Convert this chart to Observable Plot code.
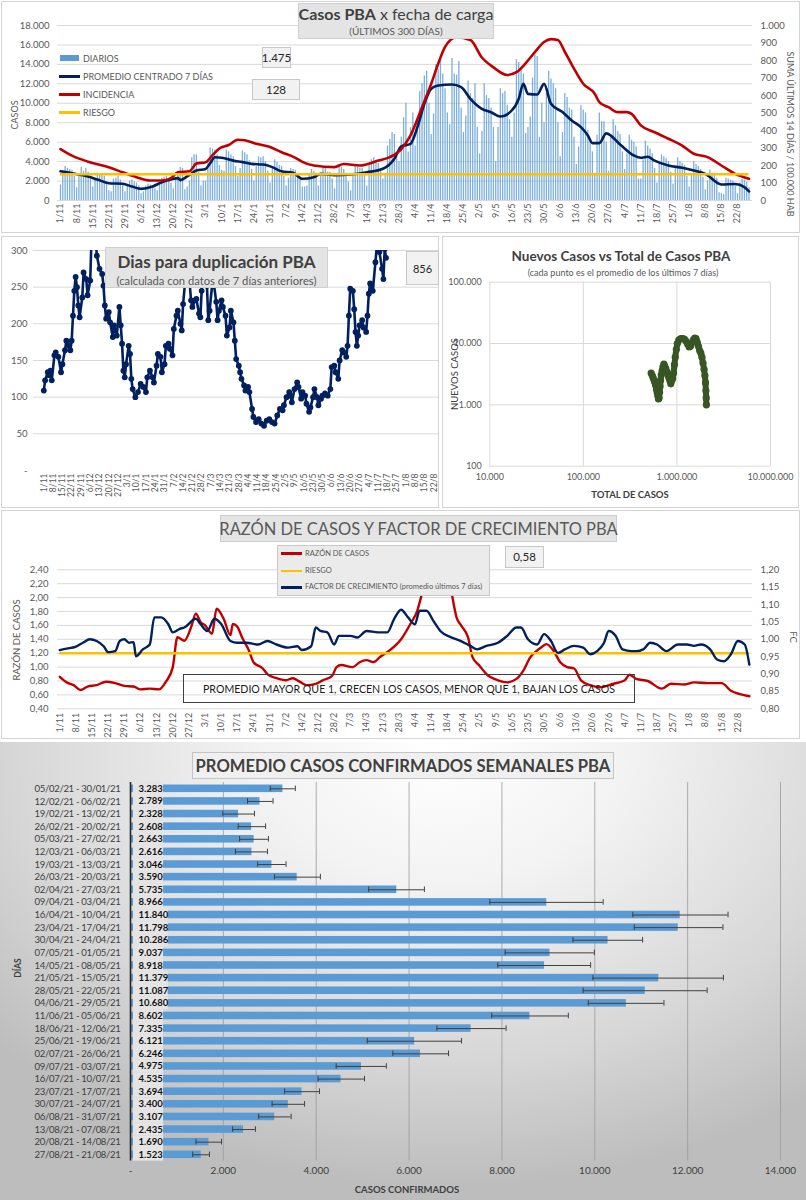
<!DOCTYPE html>
<html><head><meta charset="utf-8">
<script src="https://cdn.jsdelivr.net/npm/d3@7"></script>
<script src="https://cdn.jsdelivr.net/npm/@observablehq/plot@0.6"></script>
<style>
body{margin:0;background:#fff;}
#root{position:relative;width:806px;height:1200px;overflow:hidden;font-family:Lato,"Noto Sans",sans-serif;color:#595959;background:#fff;}
svg{overflow:visible}
</style></head>
<body><div id="root"></div>
<script>
// ---------------- DATA ----------------
const weekLabels = ["1/11","8/11","15/11","22/11","29/11","6/12","13/12","20/12","27/12","3/1","10/1","17/1","24/1","31/1","7/2","14/2","21/2","28/2","7/3","14/3","21/3","28/3","4/4","11/4","18/4","25/4","2/5","9/5","16/5","23/5","30/5","6/6","13/6","20/6","27/6","4/7","11/7","18/7","25/7","1/8","8/8","15/8","22/8"];

// daily cases (fecha de carga), 1/11/2020 .. 27/8/2021
const diarios = [
1600,3000,3500,3300,3200,3100,2500,
1300,2500,3400,3000,3300,2900,2200,
1400,2300,2800,2700,2600,2500,1900,
1000,900,2200,2300,2500,2100,1700,
900,1500,2000,2100,1900,1800,1500,
700,900,1500,1700,1600,1500,1200,
1000,1600,2300,2400,2500,2200,1800,
1200,2300,3000,3400,3300,1100,1400,
2000,4400,4700,4700,2900,1500,2000,
2000,4000,5400,5300,5200,4700,3600,
3100,3000,5200,5000,4700,4500,3500,
2500,3300,5100,4900,4700,4100,3200,
2000,3500,4500,4400,4500,4000,3000,
1800,3400,4200,3900,3600,3500,2500,
1500,2300,3300,3200,3100,2800,2300,
1400,1400,1500,2800,3200,3000,2800,
1500,2700,3300,3400,2900,2900,2200,
1200,2500,3400,3400,3200,2800,1900,
1000,2800,3600,3400,3300,3300,2800,
1500,3600,4200,4400,4100,3800,3300,
2200,2800,5600,6300,7000,6800,4500,
4000,6500,8500,10000,5000,7500,9000,
5600,8000,11200,12000,12800,13300,10000,
6800,8900,14000,13500,14600,13000,11500,
9000,7800,14600,13000,12900,14300,9500,
7000,8700,12300,11000,10500,12000,7500,
4800,7100,12000,10800,10500,9500,7500,
4000,7500,11500,11000,11200,9800,8300,
6500,9000,14500,14200,13500,13000,6900,
7500,8600,12600,15000,14800,6500,10000,
8000,11000,13300,12500,12000,11500,8000,
4500,7000,11000,10600,9500,9300,6500,
3700,5500,9800,9300,9000,7200,6000,
5000,2600,6700,9000,8100,8100,6000,
3000,6500,8300,7700,7100,6800,5000,
3200,4800,6700,6200,6000,5500,2200,
2200,4200,6100,5600,5300,4800,3300,
1800,3700,4700,4500,4300,4000,2900,
1700,3300,4400,4000,3800,3600,2500,
1400,2700,4000,3700,3500,3200,2400,
1100,2000,3100,2800,2700,2300,800,
700,600,2300,2200,2100,2000,1500,
700,1800,2200,2100,1900,1300];

// promedio centrado 7 días (day index from 1/11)
const promDays = [0,5,12,16,21,27,31,35,40,44,48,51,52,55,59,63,65,67,70,75,79,83,88,92,96,101,105,110,113,119,126,133,140,145,148,152,155,158,161,164,170,174,178,183,187,191,196,199,201,203,207,210,213,218,222,226,229,231,234,237,243,249,252,255,258,264,270,275,280,287,293,297,299];
const promVals = [3000,2800,2470,2160,1780,1720,1440,1200,1440,1880,2160,2300,2100,2470,3080,3250,3840,4450,4400,4100,3950,3770,3700,3430,3000,2850,2230,2400,2740,2600,2670,2900,3260,4300,5560,5830,7540,9950,11500,11830,11930,11660,10460,9430,9080,8640,9260,10460,12000,10970,10900,12000,9950,9100,8230,7540,6700,5900,5900,6900,5760,4630,4390,4500,4100,3600,3360,3080,2740,1650,1700,1370,930];

// incidencia: suma últimos 14 días / 100.000 hab
const incDays = [0,5,12,21,27,33,39,44,48,51,56,59,63,66,69,73,77,80,85,91,96,102,105,110,119,123,130,138,143,148,152,157,161,164,167,172,178,183,188,194,198,203,206,210,213,216,219,223,227,232,234,238,242,246,248,252,258,264,270,275,281,287,293,299];
const incVals = [294,256,222,190,161,133,114,114,128,161,167,211,219,259,297,317,347,344,324,306,276,244,221,200,191,209,200,228,248,294,372,533,667,781,878,933,917,817,761,717,733,800,848,906,922,917,850,753,667,610,562,533,505,505,495,429,390,353,314,267,248,200,152,124];
const riesgoInc = 150;
const casosTicks = [0,2000,4000,6000,8000,10000,12000,14000,16000,18000];
const incTicks = [0,100,200,300,400,500,600,700,800,900,1000];

// días para duplicación
const dupDays = [0,1,3,4,5,6,8,9,11,13,14,16,17,19,20,21,22,23,24,25,26,27,29,30,32,33,35,36,38,40,42,44,45,46,47,49,50,52,53,55,57,58,59,60,61,62,64,65,66,67,69,71,73,75,77,78,80,82,83,85,86,88,89,91,92,94,95,97,98,100,101,103,104,105,107,109,111,112,114,115,117,118,119,120,121,123,124,125,127,128,130,131,132,134,135,137,138,140,141,143,144,145,147,148,149,151,152,154,155,157,158,160,162,164,166,168,170,172,174,176,178,180,181,183,185,186,187,189,191,192,194,195,197,198,200,201,203,204,206,207,209,210,212,214,216,217,219,220,222,223,225,226,228,229,230,231,233,234,235,236,237,238,240,241,243,244,245,246,247,248,250,251,253,255,256,257,258];
const dupVals = [109,123,134,130,136,123,157,161,155,134,145,164,177,170,164,177,211,245,264,250,225,209,236,270,261,239,259,320,340,293,275,268,252,225,207,216,202,182,198,184,223,198,173,136,127,145,170,159,125,111,100,107,118,114,107,127,136,127,120,143,159,155,134,145,170,173,166,157,193,211,218,200,191,227,266,277,232,223,232,234,214,209,245,284,270,252,205,218,255,257,230,205,218,232,223,211,184,195,218,202,177,152,143,134,125,116,109,114,107,84,73,66,70,64,61,68,70,66,64,75,84,82,89,100,107,102,93,111,120,114,98,107,102,91,80,86,100,111,100,89,98,102,105,102,111,141,143,134,125,150,164,161,155,170,211,248,245,220,189,170,184,198,205,195,189,211,241,255,252,245,284,305,298,275,261,302,290];
const dupTicks = [0,50,100,150,200,250,300];

// nuevos casos vs total de casos (promedio 7 días)
const scTotal = [530000,545000,560000,575000,590000,605000,615000,625000,635000,645000,652000,660000,668000,680000,695000,710000,725000,740000,760000,780000,800000,820000,840000,860000,880000,900000,920000,940000,960000,985000,1010000,1050000,1100000,1150000,1200000,1250000,1300000,1350000,1400000,1450000,1500000,1550000,1600000,1650000,1700000,1750000,1800000,1850000,1900000,1950000,1990000,2020000,2040000,2055000,2065000];
const scNew = [3300,3000,2700,2400,2100,1800,1600,1400,1250,1300,1600,2000,2500,3100,3600,4200,4600,4300,3900,3500,3100,2800,2500,2200,2500,2700,3300,4500,6000,8000,10000,11500,12000,12000,11800,11000,9800,8800,9100,10300,11500,12300,12000,10500,9000,7700,7000,6000,4800,3800,3000,2300,1700,1300,1000];
const scXTicks = [10000,100000,1000000,10000000];
const scYTicks = [100,1000,10000,100000];

// razón de casos y factor de crecimiento
const razDays = [0,3,6,9,12,16,20,24,28,32,35,39,43,46,49,51,54,57,59,61,63,66,68,71,74,75,77,79,82,84,88,90,94,98,101,104,107,111,114,118,120,122,127,130,133,136,139,143,148,152,155,157,159,163,167,170,172,174,177,179,182,185,190,194,198,201,204,207,209,211,214,217,220,223,226,230,234,240,245,247,250,255,261,265,271,275,281,287,291,295,299];
const razVals = [0.86,0.78,0.74,0.67,0.72,0.74,0.79,0.77,0.73,0.72,0.68,0.69,0.68,0.79,1.0,1.43,1.38,1.58,1.77,1.65,1.6,1.48,1.84,1.7,1.46,1.62,1.58,1.43,1.24,1.07,0.98,0.9,0.84,0.81,0.84,0.79,0.74,0.76,0.81,0.87,1.0,1.03,1.0,1.07,1.1,1.07,1.15,1.24,1.4,1.62,1.81,2.05,2.29,2.7,2.6,2.05,1.72,1.6,1.43,1.14,1.02,0.9,0.81,0.78,0.83,0.95,1.14,1.24,1.29,1.33,1.24,1.07,1.0,0.98,0.81,0.74,0.71,0.76,0.81,0.89,0.83,0.8,0.69,0.76,0.75,0.78,0.77,0.77,0.66,0.61,0.58];
const fcDays = [0,3,7,10,13,16,19,21,24,26,28,30,32,33,36,39,41,44,47,49,52,54,59,61,64,67,70,74,77,81,86,90,94,99,103,105,109,111,113,116,119,121,126,129,133,138,142,145,148,151,154,156,159,162,165,170,174,178,181,185,190,194,198,200,203,207,210,213,216,219,223,227,230,233,236,238,241,244,248,250,253,256,259,263,268,272,275,278,282,285,288,291,294,297,299];
const fcVals = [0.969,0.973,0.979,0.99,1.0,0.995,0.98,0.963,0.966,0.995,1.0,0.99,0.992,0.951,0.971,0.985,1.063,1.063,1.044,1.02,1.03,1.034,1.059,1.044,1.024,1.059,1.044,0.995,0.99,0.99,0.985,0.995,0.985,0.976,0.98,0.969,0.98,1.034,1.024,1.02,0.985,1.01,1.01,1.005,1.024,1.02,1.02,1.059,1.085,1.063,1.043,1.082,1.082,1.053,1.024,1.005,0.995,0.981,0.971,0.981,0.99,1.01,1.034,1.034,1.0,0.985,1.015,0.995,0.961,0.971,0.981,0.976,0.957,0.966,0.99,1.024,1.01,0.971,0.966,0.966,0.971,0.99,0.985,0.966,0.985,0.985,0.981,0.985,0.971,0.942,0.937,0.957,0.995,0.985,0.927];
const riesgoRazon = 1.2;
const razTicks = [0.4,0.6,0.8,1.0,1.2,1.4,1.6,1.8,2.0,2.2,2.4];
const fcTicks = [0.80,0.85,0.90,0.95,1.00,1.05,1.10,1.15,1.20];

// promedio casos confirmados semanales
const semanas = ["05/02/21 - 30/01/21","12/02/21 - 06/02/21","19/02/21 - 13/02/21","26/02/21 - 20/02/21","05/03/21 - 27/02/21","12/03/21 - 06/03/21","19/03/21 - 13/03/21","26/03/21 - 20/03/21","02/04/21 - 27/03/21","09/04/21 - 03/04/21","16/04/21 - 10/04/21","23/04/21 - 17/04/21","30/04/21 - 24/04/21","07/05/21 - 01/05/21","14/05/21 - 08/05/21","21/05/21 - 15/05/21","28/05/21 - 22/05/21","04/06/21 - 29/05/21","11/06/21 - 05/06/21","18/06/21 - 12/06/21","25/06/21 - 19/06/21","02/07/21 - 26/06/21","09/07/21 - 03/07/21","16/07/21 - 10/07/21","23/07/21 - 17/07/21","30/07/21 - 24/07/21","06/08/21 - 31/07/21","13/08/21 - 07/08/21","20/08/21 - 14/08/21","27/08/21 - 21/08/21"];
const promSem = [3283,2789,2328,2608,2663,2616,3046,3590,5735,8966,11840,11798,10286,9037,8918,11379,11087,10680,8602,7335,6121,6246,4975,4535,3694,3400,3107,2435,1690,1523];
const errLo = [3010,2520,1990,2320,2350,2260,2740,3100,5130,7740,10820,10850,9530,8070,7910,9960,9750,9860,7780,6600,5100,5650,4430,4040,3320,3050,2760,2200,1410,1340];
const errHi = [3550,3070,2670,2910,2970,2950,3350,4090,6330,10180,12870,12760,11030,9990,9910,12770,12420,11490,9430,8090,7130,6850,5510,5040,4070,3750,3460,2690,1960,1700];
const semTicks = [0,2000,4000,6000,8000,10000,12000,14000];

// ---------------- HELPERS ----------------
const root = document.getElementById("root");
const loc = d3.formatLocale({decimal:",", thousands:".", grouping:[3], currency:["$",""]});
const fInt = loc.format(",d");
const f2 = loc.format(",.2f");
const FONT = "Lato, 'Noto Sans', sans-serif";
function place(el, x, y){ el.style.position="absolute"; el.style.left=x+"px"; el.style.top=y+"px"; root.appendChild(el); return el; }
function box(x,y,w,h,css){ const d=document.createElement("div"); d.style.cssText=`position:absolute;left:${x}px;top:${y}px;width:${w}px;height:${h}px;box-sizing:border-box;`+(css||""); root.appendChild(d); return d; }
function txt(s,cx,cy,css,rot){ const d=document.createElement("div"); d.innerHTML=s; d.style.cssText=`position:absolute;left:${cx}px;top:${cy}px;white-space:nowrap;line-height:1;transform:translate(-50%,-50%) rotate(${rot||0}deg);`+(css||""); root.appendChild(d); return d; }
function txtL(s,x,cy,css){ const d=document.createElement("div"); d.innerHTML=s; d.style.cssText=`position:absolute;left:${x}px;top:${cy}px;white-space:nowrap;line-height:1;transform:translateY(-50%);`+(css||""); root.appendChild(d); return d; }
const baseStyle = {background:"transparent", fontFamily:FONT, color:"#595959", overflow:"visible"};
const weekTickDays = weekLabels.map((_,i)=>i*7);
const weekFmt = d => weekLabels[Math.round(d/7)];

// panel frames & backgrounds
box(1,1,799,232,"border:1px solid #d4d4d4;");
box(1,236,438,272,"border:1px solid #d4d4d4;");
box(442,236,357,272,"border:1px solid #d4d4d4;");
box(1,510,799,229,"border:1px solid #d4d4d4;");
box(0,742,806,458,"background:radial-gradient(ellipse 75% 95% at 55% 2%, #ffffff 0%, #f3f3f3 30%, #d6d6d6 72%, #bdbdbd 100%);");

// ---------------- PANEL 1 ----------------
const K = 18000/1000;
const daily = diarios.map((v,i)=>({d:i, v}));
const prom = promDays.map((d,i)=>({d, v:promVals[i]}));
const inc = incDays.map((d,i)=>({d, v:incVals[i]*K}));
const p1 = Plot.plot({
  width:806, height:235, marginLeft:57, marginRight:54, marginTop:25, marginBottom:35,
  x:{domain:[0,294], range:[60,737], axis:null},
  y:{domain:[0,18000], axis:null},
  style:baseStyle,
  marks:[
    Plot.ruleY(casosTicks,{stroke:"#d9d9d9", strokeWidth:1}),
    Plot.ruleX(daily,{x:"d", y1:0, y2:"v", stroke:"#5b9bd5", strokeWidth:1.3, strokeOpacity:0.8}),
    Plot.line(prom,{x:"d", y:"v", stroke:"#002060", strokeWidth:2.6, curve:"monotone-x"}),
    Plot.line(inc,{x:"d", y:"v", stroke:"#c00000", strokeWidth:2.6, curve:"monotone-x"}),
    Plot.ruleY([riesgoInc*K],{x1:0, x2:299, stroke:"#ffc000", strokeWidth:2.6}),
    Plot.axisY(casosTicks,{anchor:"left", tickSize:0, tickPadding:8, tickFormat:fInt, fontSize:9.5, label:null}),
    Plot.axisY(incTicks.map(v=>v*K),{anchor:"right", tickSize:0, tickPadding:8, tickFormat:d=>fInt(Math.round(d/K)), fontSize:9.5, label:null}),
    Plot.axisX(weekTickDays,{tickFormat:weekFmt, tickRotate:-90, tickSize:0, tickPadding:3, fontSize:9, label:null})
  ]
});
place(p1,0,0);

// ---------------- PANEL 2 ----------------
const dup = dupDays.map((d,i)=>({d, v:dupVals[i]}));
const p2 = Plot.plot({
  width:440, height:275, marginLeft:33, marginRight:2, marginTop:15, marginBottom:40,
  x:{domain:[0,294], range:[43.3,433.3], axis:null},
  y:{domain:[0,300], axis:null},
  style:baseStyle,
  marks:[
    Plot.ruleY(dupTicks.filter(v=>v>0),{stroke:"#d9d9d9"}),
    Plot.line(dup,{x:"d", y:"v", stroke:"#002060", strokeWidth:2.6, clip:true}),
    Plot.dot(dup,{x:"d", y:"v", r:2.9, fill:"#002060", clip:true}),
    Plot.axisY(dupTicks,{tickSize:0, tickPadding:6, tickFormat:d=>d===0?"-":String(d), fontSize:9.5, label:null}),
    Plot.axisX(weekTickDays,{tickFormat:weekFmt, tickRotate:-90, tickSize:0, tickPadding:3, fontSize:8.5, label:null})
  ]
});
place(p2,0,235);

// ---------------- PANEL 3 ----------------
const sc = scTotal.map((t,i)=>({t, n:scNew[i]}));
const p3 = Plot.plot({
  width:357, height:270, marginLeft:46.3, marginRight:30, marginTop:44.7, marginBottom:41.3,
  x:{type:"log", domain:[1e4,1e7], axis:null},
  y:{type:"log", domain:[100,1e5], axis:null},
  style:baseStyle,
  marks:[
    Plot.ruleX(scXTicks,{stroke:"#d9d9d9"}),
    Plot.ruleY(scYTicks,{stroke:"#d9d9d9"}),
    Plot.line(sc,{x:"t", y:"n", stroke:"#375623", strokeWidth:6, curve:"monotone-x"}),
    Plot.dot(sc,{x:"t", y:"n", r:3.6, fill:"#375623"}),
    Plot.axisY(scYTicks,{tickSize:0, tickPadding:8, tickFormat:fInt, fontSize:9, label:null}),
    Plot.axisX(scXTicks,{tickSize:0, tickPadding:7, tickFormat:fInt, fontSize:9, label:null})
  ]
});
place(p3,443,237);

// ---------------- PANEL 4 ----------------
const conv = fc => 0.4 + (fc-0.8)*5;
const raz = razDays.map((d,i)=>({d, v:razVals[i]}));
const fcs = fcDays.map((d,i)=>({d, v:conv(fcVals[i])}));
const p4 = Plot.plot({
  width:806, height:230, marginLeft:57, marginRight:54, marginTop:59.3, marginBottom:31.7,
  x:{domain:[0,294], range:[59.3,737.3], axis:null},
  y:{domain:[0.4,2.4], axis:null},
  style:baseStyle,
  marks:[
    Plot.ruleY(razTicks,{stroke:"#d9d9d9"}),
    Plot.line(raz,{x:"d", y:"v", stroke:"#c00000", strokeWidth:2.4, curve:"monotone-x", clip:true}),
    Plot.ruleY([riesgoRazon],{x1:0, x2:299, stroke:"#ffc000", strokeWidth:2.6}),
    Plot.line(fcs,{x:"d", y:"v", stroke:"#002060", strokeWidth:2.4, curve:"monotone-x"}),
    Plot.axisY(razTicks,{anchor:"left", tickSize:0, tickPadding:9, tickFormat:f2, fontSize:9.5, label:null}),
    Plot.axisY(fcTicks.map(conv),{anchor:"right", tickSize:0, tickPadding:8, tickFormat:d=>f2(0.8+(d-0.4)/5), fontSize:9.5, label:null}),
    Plot.axisX(weekTickDays,{tickFormat:weekFmt, tickRotate:-90, tickSize:0, tickPadding:4, fontSize:9, label:null})
  ]
});
place(p4,0,510);

// ---------------- PANEL 5 ----------------
const sem = semanas.map((s,i)=>({s, v:promSem[i], lo:errLo[i], hi:errHi[i]}));
const p5 = Plot.plot({
  width:806, height:458, marginLeft:130, marginRight:26, marginTop:40, marginBottom:39.4,
  x:{domain:[0,14000], axis:null},
  y:{type:"band", domain:semanas, paddingInner:0.4, paddingOuter:0.2, round:false, axis:null},
  style:{...baseStyle, color:"#404040"},
  marks:[
    Plot.ruleX(semTicks.filter(v=>v>0),{stroke:"#9a9a9a", strokeWidth:0.8}),
    Plot.barX(sem,{x:"v", y:"s", fill:"#5b9bd5"}),
    Plot.barX(sem,{x1:65, x2:d=>d.v>=10000?812:712, y:"s", fill:"#e4e4e4", insetTop:-2.6, insetBottom:-2.6}),
    Plot.ruleX([0],{stroke:"#262626", strokeWidth:1.6}),
    Plot.ruleY(sem,{x1:"lo", x2:"hi", y:"s", stroke:"#404040", strokeWidth:1}),
    Plot.tickX(sem,{x:"lo", y:"s", stroke:"#404040", insetTop:1, insetBottom:1}),
    Plot.tickX(sem,{x:"hi", y:"s", stroke:"#404040", insetTop:1, insetBottom:1}),
    Plot.text(sem,{x:0, y:"s", text:d=>fInt(d.v), textAnchor:"start", dx:8, fontWeight:"bold", fontSize:9.5, fill:"#111"}),
    Plot.axisY({tickSize:0, tickPadding:10, fontSize:9.6, label:null}),
    Plot.axisX(semTicks,{tickSize:0, tickPadding:6, tickFormat:d=>d===0?"-":fInt(d), fontSize:10, label:null})
  ]
});
d3.select(p5).selectAll('g[aria-label="y-axis tick label"] text').attr("letter-spacing","-0.35px");
place(p5,0,742);

// ---------------- OVERLAYS ----------------
// panel 1
box(298,3,196,36,"background:#e4e4e4;border:1px solid #cfcfcf;");
txt('<b>Casos PBA</b> x fecha de carga',396,13.5,"font-size:16px;color:#404040;");
txt('(ÚLTIMOS 300 DÍAS)',396,30.5,"font-size:10px;color:#595959;");
box(60,55,19,6,"background:#5b9bd5;");
box(59,75,21,2.6,"background:#002060;");
box(59,93,21,2.6,"background:#c00000;");
box(59,111,21,2.6,"background:#ffc000;");
txtL("DIARIOS",83,58,"font-size:9px;");
txtL("PROMEDIO CENTRADO 7 DÍAS",83,76,"font-size:9px;");
txtL("INCIDENCIA",83,94,"font-size:9px;");
txtL("RIESGO",83,112,"font-size:9px;");
box(262,47,29,21,"background:#f2f2f2;border:1px solid #c8c8c8;");
txt("1.475",276.5,57.5,"font-size:11.5px;color:#262626;");
box(252,79,48,21,"background:#f2f2f2;border:1px solid #c8c8c8;");
txt("128",276,89.5,"font-size:11.5px;color:#262626;");
txt("CASOS",14,115,"font-size:9px;",-90);
txt("SUMA ÚLTIMOS 14 DÍAS / 100.000 HAB",790,134,"font-size:9px;",90);

// panel 2
box(105,247,223,41,"background:#e4e4e4;border:1px solid #cfcfcf;");
txt('<b>Dias para duplicación PBA</b>',216.5,261,"font-size:17px;color:#404040;");
txt('(calculada con datos de 7 días anteriores)',216.5,280.5,"font-size:11.2px;color:#595959;");
box(406,251,33,34,"background:#f2f2f2;border:1px solid #c8c8c8;");
txt("856",422.5,268,"font-size:11px;color:#262626;");

// panel 3
txt('<b>Nuevos Casos vs Total de Casos PBA</b>',621,256.5,"font-size:13.5px;color:#404040;");
txt('(cada punto es el promedio de los últimos 7 días)',623,271.5,"font-size:9px;color:#595959;");
txt("NUEVOS CASOS",455,374,"font-size:9.5px;color:#404040;",-90);
txt("<b>TOTAL DE CASOS</b>",630,495,"font-size:9.5px;color:#404040;");

// panel 4
box(220,515,397,27,"background:#e4e4e4;border:1px solid #cfcfcf;");
txt("RAZÓN DE CASOS Y FACTOR DE CRECIMIENTO PBA",418.5,528.5,"font-size:16.5px;color:#595959;");
box(277,545,213,51,"background:#ebebeb;border:1px solid #c8c8c8;");
box(281,552.3,21,2.4,"background:#c00000;");
box(281,569.5,21,2.4,"background:#ffc000;");
box(281,586.2,21,2.4,"background:#002060;");
txtL("RAZÓN DE CASOS",305,553.5,"font-size:7.5px;");
txtL("RIESGO",305,570.7,"font-size:7.5px;");
txtL("FACTOR DE CRECIMIENTO (promedio últimos 7 días)",305,587.4,"font-size:7.5px;");
box(505,546,39,22,"background:#f2f2f2;border:1px solid #c8c8c8;");
txt("0,58",524.5,557,"font-size:11.5px;color:#262626;");
box(183,674,452,29,"border:1px solid #404040;");
txt("PROMEDIO MAYOR QUE 1, CRECEN LOS CASOS, MENOR QUE 1, BAJAN LOS CASOS",409,689,"font-size:10.6px;color:#1a1a1a;");
txt("RAZÓN DE CASOS",16.7,640,"font-size:9.5px;",-90);
txt("FC",793,637,"font-size:9.5px;",90);

// panel 5
box(192,752,422,27,"background:#f0f0f0;border:1px solid #c4c4c4;");
txt("<b>PROMEDIO CASOS CONFIRMADOS SEMANALES PBA</b>",403,765.5,"font-size:16.6px;color:#404040;");
txt("<b>DÍAS</b>",18,968,"font-size:8.5px;color:#404040;",-90);
txt("<b>CASOS CONFIRMADOS</b>",407,1190,"font-size:9.5px;color:#404040;");
</script></body></html>
